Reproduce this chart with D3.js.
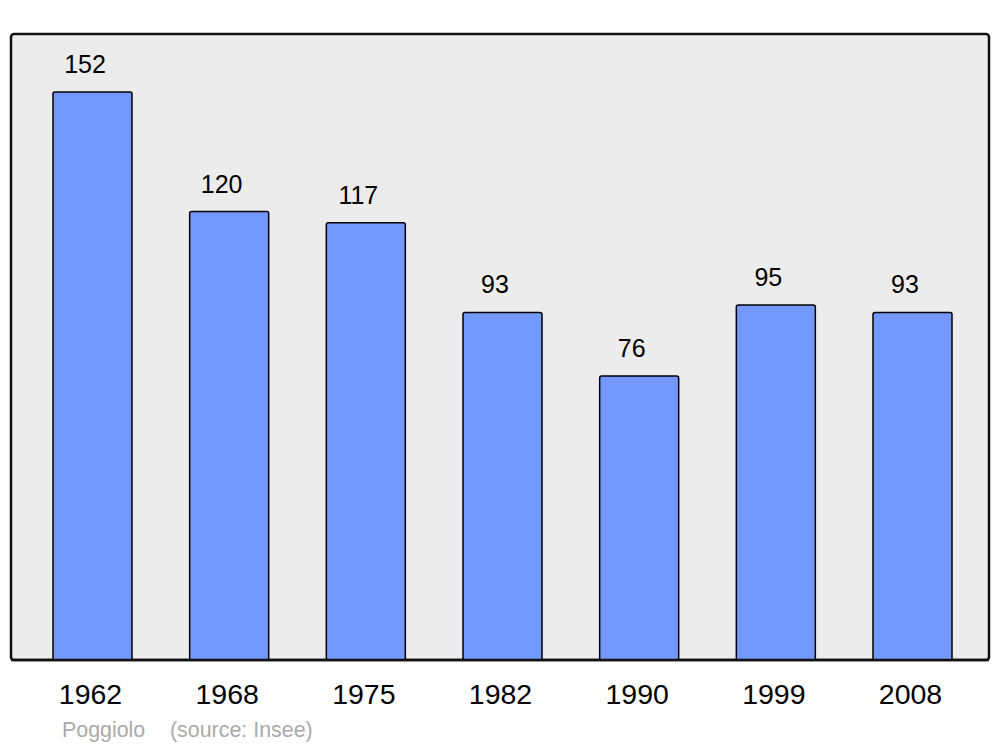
<!DOCTYPE html>
<html>
<head>
<meta charset="utf-8">
<script src="https://cdn.jsdelivr.net/npm/d3@7"></script>
<style>
html,body{margin:0;padding:0;background:#fff;}
svg{display:block;font-family:"Liberation Sans",Arial,sans-serif;}
</style>
</head>
<body>
<svg id="chart" width="1000" height="747"></svg>
<script>
const years = ["1962","1968","1975","1982","1990","1999","2008"];
const population = [152,120,117,93,76,95,93];
const placeLabel = "Poggiolo";
const sourceLabel = "(source: Insee)";

const svg = d3.select("#chart");
const frame = {left:11, top:34, right:989, bottom:660};

svg.append("rect")
  .attr("x", frame.left).attr("y", frame.top)
  .attr("width", frame.right-frame.left).attr("height", frame.bottom-frame.top)
  .attr("rx", 3).attr("ry", 3)
  .attr("fill", "#ececec").attr("stroke", "#111").attr("stroke-width", 2.5);

const x = d3.scaleBand().domain(years).range([53, 952]).paddingInner(0.422).paddingOuter(0);
const y = d3.scaleLinear().domain([0, 167.5]).range([frame.bottom, frame.top]);

const data = years.map((yr,i)=>({year:yr, value:population[i]}));

svg.selectAll("rect.bar").data(data).enter().append("rect")
  .attr("class","bar")
  .attr("x", d=>x(d.year)).attr("y", d=>y(d.value))
  .attr("width", x.bandwidth()).attr("height", d=>y(0)-y(d.value))
  .attr("rx", 2).attr("ry", 2)
  .attr("fill", "#7399ff").attr("stroke", "#000").attr("stroke-width", 1.5);

svg.append("line").attr("x1", frame.left).attr("x2", frame.right)
  .attr("y1", frame.bottom).attr("y2", frame.bottom)
  .attr("stroke", "#111").attr("stroke-width", 2.5);

svg.selectAll("text.val").data(data).enter().append("text")
  .attr("class","val")
  .attr("x", d=>x(d.year)+x.bandwidth()/2-7.5)
  .attr("y", d=>y(d.value)-19)
  .attr("text-anchor","middle")
  .attr("font-size", 25).attr("fill","#000")
  .text(d=>d.value);

svg.selectAll("text.year").data(data).enter().append("text")
  .attr("class","year")
  .attr("x", d=>x(d.year)+x.bandwidth()/2-2)
  .attr("y", 704)
  .attr("text-anchor","middle")
  .attr("font-size", 28.5).attr("fill","#000")
  .text(d=>d.year);

svg.append("text").attr("x", 62).attr("y", 737)
  .attr("font-size", 21.4).attr("fill", "#aaa")
  .text(placeLabel);
svg.append("text").attr("x", 170).attr("y", 737)
  .attr("font-size", 21.4).attr("fill", "#aaa")
  .text(sourceLabel);
</script>
</body>
</html>
